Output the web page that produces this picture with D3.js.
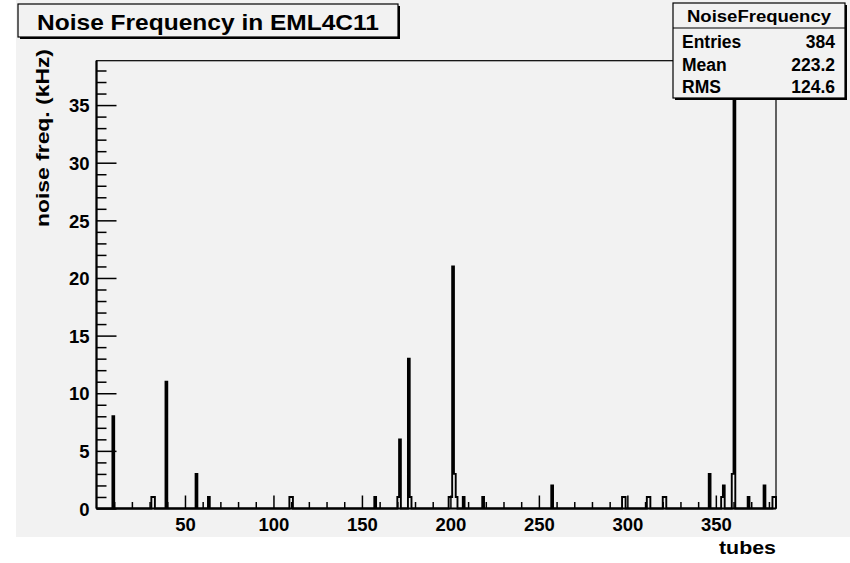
<!DOCTYPE html>
<html><head><meta charset="utf-8">
<script src="https://cdn.jsdelivr.net/npm/d3@7"></script>
<style>
html,body{margin:0;padding:0;background:#ffffff;}
svg text{font-family:"Liberation Sans",Arial,Helvetica,sans-serif;font-weight:bold;fill:#000;}
</style></head>
<body>
<svg id="c" width="850" height="563"></svg>
<script>
// ---- data ----
const nBins = 384;
const noisyTubes  = [9, 31, 32, 39, 56, 63, 109, 110, 157, 170, 171, 176, 177, 199, 200, 201, 202, 203, 207, 218, 257, 297, 298, 311, 312, 320, 321, 346, 353, 354, 359, 360, 368, 377, 382, 383];
const noiseValues = [8, 1, 1, 11, 3, 1, 1, 1, 1, 1, 6, 13, 1, 1, 1, 21, 3, 1, 1, 1, 2, 1, 1, 1, 1, 1, 1, 3, 1, 2, 3, 37, 1, 2, 1, 1];
const xMajorTicks = [50, 100, 150, 200, 250, 300, 350];
const yMajorTicks = [0, 5, 10, 15, 20, 25, 30, 35];
const titleText = "Noise Frequency in EML4C11";
const statsTitle = "NoiseFrequency";
const statsLabels = ["Entries", "Mean", "RMS"];
const statsValues = ["384", "223.2", "124.6"];
const xTitle = "tubes";
const yTitle = "noise freq. (kHz)";

// full bin contents
const bins = new Array(nBins).fill(0);
noisyTubes.forEach((t, i) => { bins[t] = noiseValues[i]; });
const yMax = d3.max(noiseValues) * 1.05;

const svg = d3.select("#c");
const bg = "#f2f2f2";
svg.append("rect").attr("x", 16).attr("y", 0).attr("width", 834).attr("height", 537).attr("fill", bg);

const L = 96.5, R = 776, T = 60.7, B = 508.5;
const x = d3.scaleLinear().domain([0, nBins]).range([L, R]);
const y = d3.scaleLinear().domain([0, yMax]).range([B, T]);

// frame
svg.append("rect").attr("x", L).attr("y", T).attr("width", R - L).attr("height", B - T)
  .attr("fill", bg).attr("stroke", "#000").attr("stroke-width", 1.2);

// histogram outline
const pts = [];
bins.forEach((v, i) => { pts.push([i, v]); pts.push([i + 1, v]); });
pts.unshift([0, 0]); pts.push([nBins, 0]);
svg.append("path").datum(pts)
  .attr("d", d3.line().x(d => x(d[0])).y(d => y(d[1])))
  .attr("fill", "none").attr("stroke", "#000").attr("stroke-width", 1.9);

// x axis
const xMinor = d3.range(10, nBins, 10).filter(v => v % 50 !== 0);
const gxm = svg.append("g").attr("transform", `translate(0,${B})`)
  .call(d3.axisBottom(x).tickValues(xMinor).tickSize(-6.5).tickFormat(""));
const gx = svg.append("g").attr("transform", `translate(0,${B})`)
  .call(d3.axisBottom(x).tickValues(xMajorTicks).tickSize(-13).tickFormat(d3.format("d")));
[gxm, gx].forEach(g => { g.select(".domain").remove(); g.selectAll("line").attr("stroke", "#000").attr("stroke-width", 1.5); });
gx.selectAll("text").attr("font-size", 18.5).attr("dy", 0).attr("y", 22);

// y axis
const yMinor = d3.range(1, yMax, 1).filter(v => v % 5 !== 0);
const gym = svg.append("g").attr("transform", `translate(${L},0)`)
  .call(d3.axisLeft(y).tickValues(yMinor).tickSize(-10).tickFormat(""));
const gy = svg.append("g").attr("transform", `translate(${L},0)`)
  .call(d3.axisLeft(y).tickValues(yMajorTicks).tickSize(-20).tickFormat(d3.format("d")));
[gym, gy].forEach(g => { g.select(".domain").remove(); g.selectAll("line").attr("stroke", "#000").attr("stroke-width", 1.5); });
gy.selectAll("text").attr("font-size", 18.5).attr("x", -7).attr("dy", "0.36em");

// axis lines
svg.append("line").attr("x1", L).attr("x2", R).attr("y1", B).attr("y2", B).attr("stroke", "#000").attr("stroke-width", 2.2);
svg.append("line").attr("x1", L).attr("x2", L).attr("y1", T).attr("y2", B).attr("stroke", "#000").attr("stroke-width", 2.2);

// axis titles
svg.append("text").attr("x", R).attr("y", 554).attr("text-anchor", "end")
  .attr("font-size", 19).attr("textLength", 57).attr("lengthAdjust", "spacingAndGlyphs").text(xTitle);
svg.append("text").attr("transform", "translate(49,227) rotate(-90)").attr("text-anchor", "start")
  .attr("font-size", 18).attr("textLength", 178).attr("lengthAdjust", "spacingAndGlyphs").text(yTitle);

// title box
svg.append("rect").attr("x", 20).attr("y", 6).attr("width", 380).attr("height", 33).attr("fill", "#000");
svg.append("rect").attr("x", 18).attr("y", 4).attr("width", 380).attr("height", 33)
  .attr("fill", bg).attr("stroke", "#000").attr("stroke-width", 1.2);
svg.append("text").attr("x", 208).attr("y", 30).attr("text-anchor", "middle")
  .attr("font-size", 22).attr("textLength", 342).attr("lengthAdjust", "spacingAndGlyphs").text(titleText);

// stats box
const sx = 673, sy = 3, sw = 172, sh = 95;
svg.append("rect").attr("x", sx + 2).attr("y", sy + 2).attr("width", sw).attr("height", sh).attr("fill", "#000");
svg.append("rect").attr("x", sx).attr("y", sy).attr("width", sw).attr("height", sh)
  .attr("fill", bg).attr("stroke", "#000").attr("stroke-width", 1.2);
svg.append("line").attr("x1", sx).attr("x2", sx + sw).attr("y1", 28).attr("y2", 28).attr("stroke", "#000").attr("stroke-width", 1.2);
svg.append("text").attr("x", sx + sw / 2).attr("y", 22).attr("text-anchor", "middle")
  .attr("font-size", 16).attr("textLength", 144).attr("lengthAdjust", "spacingAndGlyphs").text(statsTitle);
const rowY = [48, 71, 93];
statsLabels.forEach((l, i) => {
  svg.append("text").attr("x", 682).attr("y", rowY[i]).attr("font-size", 17.5).text(l);
  svg.append("text").attr("x", 835).attr("y", rowY[i]).attr("text-anchor", "end").attr("font-size", 17.5).text(statsValues[i]);
});
</script>
</body></html>
